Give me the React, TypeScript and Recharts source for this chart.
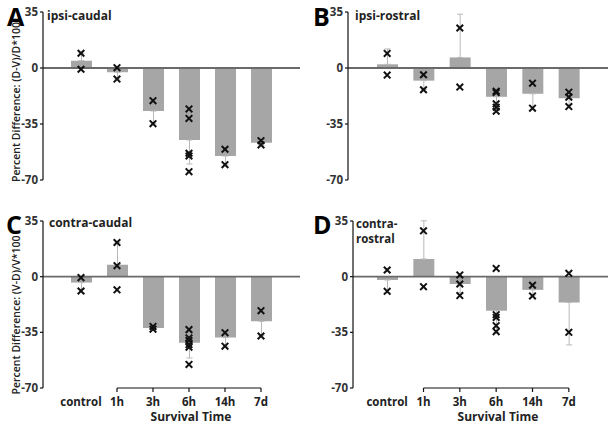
import React from "react";
import { ComposedChart, Bar, Line, XAxis, YAxis, ErrorBar, ReferenceLine } from "recharts";

const CATEGORIES = ["control", "1h", "3h", "6h", "14h", "7d"];
const Y_TICKS = [35, 0, -35, -70];

// ipsi-caudal
const A_MEAN = [4.6, -2.7, -26.9, -45, -55, -46.7];
const A_SD = [4.6, 4.2, 7.9, 15, 5.6, 1.8];
const A_POINTS = [[9.2, -0.8], [0.2, -6.9], [-20.4, -34.8], [-25.6, -31.5, -53.3, -55, -64.8], [-50.8, -60.4], [-45.4, -48.1]];

// ipsi-rostral
const B_MEAN = [2.3, -7.9, 6.6, -18, -16.1, -18.9];
const B_SD = [9.6, 5.5, 27, 5, 10, 4];
const B_POINTS = [[9.1, -4.4], [-4.2, -13.6], [25, -11.9], [-14.5, -15.3, -22.4, -24.5, -27], [-9.5, -25.1], [-15.1, -18.2, -24.1]];

// contra-caudal
const C_MEAN = [-3.7, 7.5, -32.3, -41.6, -38.3, -28.1];
const C_SD = [4.3, 14, 1, 9.5, 5.7, 9];
const C_POINTS = [[-0.6, -9], [21.5, 6.9, -8.3], [-31.3, -33], [-33.3, -38.5, -40.2, -42.7, -44.3, -55.2], [-35.2, -43.7], [-21.4, -37.3]];

// contra-rostral
const D_MEAN = [-2.1, 11.1, -4.6, -21.4, -8.3, -16.2];
const D_SD = [8, 24, 5.5, 13.6, 3.7, 26.7];
const D_POINTS = [[4.2, -9.2], [28.8, -6.3], [1.1, -4.6, -11.9], [5.2, -23.9, -25.6, -30.8, -34.6], [-5.4, -12.1], [2.1, -35]];

const MAX_PTS = 6;
const TEXT = "#222";

function buildRows(mean: number[], sd: number[], points: number[][]) {
  return CATEGORIES.map((cat, i) => {
    const row: any = { cat, mean: mean[i], err: mean[i] >= 0 ? [0, sd[i]] : [sd[i], 0] };
    for (let k = 0; k < MAX_PTS; k++) row["m" + k] = points[i][k] ?? null;
    return row;
  });
}

function XMark(props: any) {
  const { cx, cy, index } = props;
  if (cx == null || cy == null || Number.isNaN(cy)) return <g key={index} />;
  const s = 3.3;
  return (
    <path
      key={index}
      d={`M${cx - s},${cy - s}L${cx + s},${cy + s}M${cx - s},${cy + s}L${cx + s},${cy - s}`}
      stroke="#111"
      strokeWidth={2}
      fill="none"
    />
  );
}

function CatTick(props: any) {
  const { x, y, payload } = props;
  return (
    <g>
      {payload.value !== "control" && <line x1={x} x2={x} y1={y} y2={y + 4} stroke="#111" strokeWidth={1.2} />}
      <text x={x} y={y + 18} textAnchor="middle" fontSize={11.5} fontWeight={700} fill={TEXT}>
        {payload.value}
      </text>
    </g>
  );
}

type PanelProps = {
  left: number;
  top: number;
  width: number;
  height: number;
  margin: { top: number; right: number; bottom: number; left: number };
  yWidth: number;
  pad: { left: number; right: number };
  mean: number[];
  sd: number[];
  points: number[][];
  bottomAxis: boolean;
  children?: React.ReactNode;
};

function Panel(p: PanelProps) {
  const rows = buildRows(p.mean, p.sd, p.points);
  return (
    <div style={{ position: "absolute", left: p.left, top: p.top }}>
      <ComposedChart width={p.width} height={p.height} data={rows} margin={p.margin}>
        <XAxis
          dataKey="cat"
          hide={!p.bottomAxis}
          height={39}
          padding={p.pad}
          axisLine={false}
          tickLine={false}
          tickSize={0}
          tickMargin={0}
          interval={0}
          tick={<CatTick />}
        />
        <YAxis
          type="number"
          domain={[-70, 35]}
          ticks={Y_TICKS}
          width={p.yWidth}
          allowDataOverflow
          axisLine={{ stroke: "#111", strokeWidth: 1.2 }}
          tickLine={{ stroke: "#111", strokeWidth: 1.2 }}
          tickSize={3}
          tickMargin={2}
          tick={{ fontSize: 11.5, fontWeight: 700, fill: "#333" }}
        />
        <Bar dataKey="mean" fill="#a6a6a6" barSize={21} isAnimationActive={false}>
          <ErrorBar dataKey="err" width={3} stroke="#b8b8b8" strokeWidth={1} direction="y" />
        </Bar>
        <ReferenceLine y={0} stroke="#6a6a6a" strokeWidth={1.8} />
        {p.bottomAxis && (
          <ReferenceLine
            segment={[{ x: "1h", y: -70 }, { x: "7d", y: -70 }]}
            stroke="#111"
            strokeWidth={1.2}
            ifOverflow="visible"
          />
        )}
        {Array.from({ length: MAX_PTS }, (_, k) => (
          <Line
            key={k}
            dataKey={"m" + k}
            stroke="none"
            dot={(d: any) => <XMark key={d.index} {...d} />}
            activeDot={false}
            isAnimationActive={false}
          />
        ))}
        {p.children}
      </ComposedChart>
    </div>
  );
}

const letter = { fontSize: 25, fontWeight: 700, fill: "#000" } as const;
const title = { fontSize: 12, fontWeight: 700, fill: TEXT } as const;
const ylab = { fontSize: 10.5, fontWeight: 600, fill: TEXT } as const;
const xlab = { fontSize: 12, fontWeight: 700, fill: TEXT } as const;

export default function App() {
  return (
    <div
      style={{
        position: "absolute",
        left: 0,
        top: 0,
        width: 614,
        height: 427,
        background: "#fff",
        fontFamily: '"Open Sans", "Noto Sans", sans-serif',
        overflow: "hidden",
      }}
    >
      <Panel left={0} top={0} width={310} height={205} margin={{ top: 12, right: 10, bottom: 25, left: 0 }}
        yWidth={43} pad={{ left: 20, right: 21 }} mean={A_MEAN} sd={A_SD} points={A_POINTS} bottomAxis={false}>
        <text x={7} y={26} {...letter}>A</text>
        <text x={47} y={20} {...title}>ipsi-caudal</text>
        <text transform="translate(20,102) rotate(-90)" textAnchor="middle" {...ylab}>Percent Difference: (D-V)/D*100</text>
      </Panel>
      <Panel left={305} top={0} width={309} height={205} margin={{ top: 12, right: 6, bottom: 25, left: 0 }}
        yWidth={43} pad={{ left: 21, right: 21 }} mean={B_MEAN} sd={B_SD} points={B_POINTS} bottomAxis={false}>
        <text x={8} y={26} {...letter}>B</text>
        <text x={50} y={20} {...title}>ipsi-rostral</text>
      </Panel>
      <Panel left={0} top={205} width={310} height={222} margin={{ top: 16, right: 10, bottom: 0, left: 0 }}
        yWidth={43} pad={{ left: 20, right: 21 }} mean={C_MEAN} sd={C_SD} points={C_POINTS} bottomAxis>
        <text x={6} y={29} {...letter}>C</text>
        <text x={49} y={22} {...title}>contra-caudal</text>
        <text transform="translate(20,110) rotate(-90)" textAnchor="middle" {...ylab}>Percent Difference: (V-D)/V*100</text>
        <text x={191} y={216} textAnchor="middle" {...xlab}>Survival Time</text>
      </Panel>
      <Panel left={305} top={205} width={309} height={222} margin={{ top: 16, right: 6, bottom: 0, left: 0 }}
        yWidth={48} pad={{ left: 16, right: 21 }} mean={D_MEAN} sd={D_SD} points={D_POINTS} bottomAxis>
        <text x={8} y={29} {...letter}>D</text>
        <text x={51} y={23} fontSize={11.5} fontWeight={700} fill={TEXT}>
          <tspan x={51} dy={0}>contra-</tspan>
          <tspan x={51} dy={15}>rostral</tspan>
        </text>
        <text x={193} y={216} textAnchor="middle" {...xlab}>Survival Time</text>
      </Panel>
    </div>
  );
}
